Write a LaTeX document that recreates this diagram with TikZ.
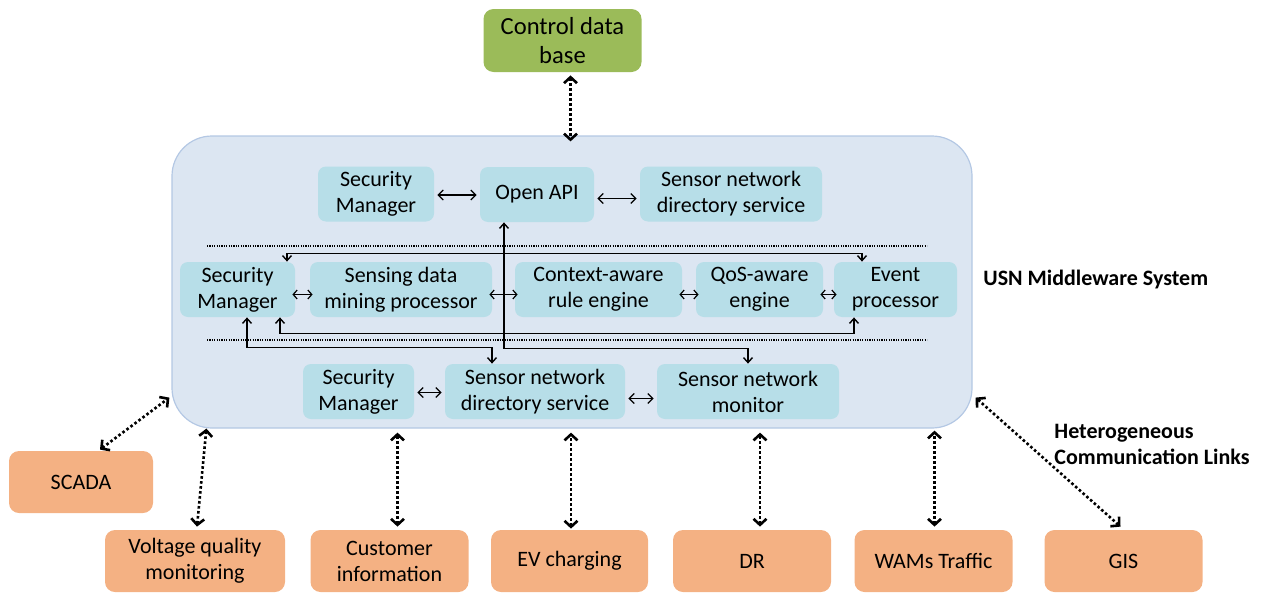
\documentclass[tikz,border=0pt]{standalone}
\usepackage{fontspec}
\setmainfont{Carlito}
\usetikzlibrary{arrows.meta,calc}
\definecolor{dbGreen}{HTML}{9BBB59}
\definecolor{usnFill}{HTML}{DCE6F2}
\definecolor{usnLine}{HTML}{B4C8E4}
\definecolor{modFill}{HTML}{B7DEE8}
\definecolor{appFill}{HTML}{F4B183}
\begin{document}
\begin{tikzpicture}[x=0.5pt, y=-0.5pt,
    usnStyle/.style={rectangle, rounded corners=20pt, fill=usnFill, draw=usnLine, line width=0.6pt, minimum width=400pt, minimum height=146pt},
    modStyle/.style={rectangle, rounded corners=4pt, fill=modFill, inner sep=0pt, align=center, font=\fontsize{11}{13}\selectfont, minimum height=27.5pt},
    appStyle/.style={rectangle, rounded corners=5pt, fill=appFill, inner sep=0pt, align=center, font=\fontsize{11}{13}\selectfont, minimum height=31pt},
    linkStyle/.style={line width=1.3pt, dash pattern=on 1.3pt off 1.2pt, {Straight Barb[length=3pt,width=6.5pt]}-{Straight Barb[length=3pt,width=6.5pt]}},
    hopStyle/.style={line width=0.6pt, {Straight Barb[length=2.5pt,width=5pt]}-{Straight Barb[length=2.5pt,width=5pt]}, shorten <=1.5pt, shorten >=1.5pt},
    shortHop/.style={line width=0.6pt, {Straight Barb[length=2pt,width=4.5pt]}-{Straight Barb[length=2pt,width=4.5pt]}, shorten <=-1.5pt, shorten >=-1.5pt},
    wireStyle/.style={line width=0.7pt, {Straight Barb[length=2.5pt,width=4.5pt]}-{Straight Barb[length=2.5pt,width=4.5pt]}},
    sepStyle/.style={line width=0.6pt, dash pattern=on 0.6pt off 0.6pt},
    noteStyle/.style={font=\fontsize{11}{13}\selectfont\bfseries, align=left, anchor=west, inner sep=0pt}]
  \useasboundingbox (0,0) rectangle (1263,594);

  % middleware frame and data base
  \node[usnStyle] (usn) at (572, 282) {};
  \node[rectangle, rounded corners=5pt, fill=dbGreen, inner sep=0pt, align=center,
        font=\fontsize{12.3}{14.5}\selectfont, minimum width=79pt, minimum height=31.5pt] (db) at (562.5, 40.5) {Control data\\base};

  % top layer
  \node[modStyle, minimum width=58pt] (r1_sm)   at (376, 194)   {Security\\Manager};
  \node[modStyle, minimum width=57pt] (r1_api)  at (537, 194.5) {Open API};
  \node[modStyle, minimum width=91pt] (r1_snds) at (731, 194)   {Sensor network\\directory service};

  \draw[sepStyle] (207, 246) -- (927, 246);

  % middle layer
  \node[modStyle, minimum width=57.5pt] (r2_sm)    at (237.5, 289.5) {Security\\Manager};
  \node[modStyle, minimum width=91pt]   (r2_sdmp)  at (401, 289.5)   {Sensing data\\mining processor};
  \node[modStyle, minimum width=83.5pt] (r2_care)  at (598.5, 289.5) {Context-aware\\rule engine};
  \node[modStyle, minimum width=63.5pt] (r2_qos)   at (759.5, 289.5) {QoS-aware\\engine};
  \node[modStyle, minimum width=61.5pt] (r2_event) at (895.5, 289.5) {Event\\processor};

  \draw[sepStyle] (207, 340) -- (927, 340);

  % bottom layer
  \node[modStyle, minimum width=55.5pt] (r3_sm)   at (358.5, 391.5) {Security\\Manager};
  \node[modStyle, minimum width=90pt]   (r3_snds) at (535, 391.5)   {Sensor network\\directory service};
  \node[modStyle, minimum width=91pt]   (r3_mon)  at (748, 391.5)   {Sensor network\\monitor};

  % applications
  \node[appStyle, minimum width=72pt]   (scada) at (81, 482)     {SCADA};
  \node[appStyle, minimum width=90pt]   (volt)  at (195, 561)    {Voltage quality\\monitoring};
  \node[appStyle, minimum width=79pt]   (cust)  at (389.5, 561)  {Customer\\information};
  \node[appStyle, minimum width=78.5pt] (ev)    at (569.5, 561)  {EV charging};
  \node[appStyle, minimum width=79pt]   (dr)    at (752, 561)    {DR};
  \node[appStyle, minimum width=79pt]   (wams)  at (933.5, 561)  {WAMs Traffic};
  \node[appStyle, minimum width=79pt]   (gis)   at (1123.5, 561) {GIS};

  \node[noteStyle] (usn_label) at (983, 280) {USN Middleware System};
  \node[noteStyle] (link_label) at (1054, 444) {Heterogeneous\\Communication Links};

  % links inside the layers
  \draw[hopStyle] ($(r1_sm.east)+(0,1)$) -- ($(r1_api.west)+(0,0.5)$);
  \draw[hopStyle] ($(r1_api.east)+(0,4)$) -- ($(r1_snds.west)+(0,4.5)$);

  \draw[shortHop] ($(r2_sm.east)+(0,5)$)   -- ($(r2_sdmp.west)+(0,5)$);
  \draw[shortHop] ($(r2_sdmp.east)+(0,5)$) -- ($(r2_care.west)+(0,5)$);
  \draw[shortHop] ($(r2_care.east)+(0,5)$) -- ($(r2_qos.west)+(0,5)$);
  \draw[shortHop] ($(r2_qos.east)+(0,5)$)  -- ($(r2_event.west)+(0,5)$);

  \draw[hopStyle] ($(r3_sm.east)+(0,1)$)   -- ($(r3_snds.west)+(0,1)$);
  \draw[hopStyle] ($(r3_snds.east)+(0,7)$) -- ($(r3_mon.west)+(0,7)$);

  % links across the layers
  \draw[wireStyle] ($(r2_sm.north)+(49.5,0)$) |- ($(r2_event.north)+(-33.5,-8)$) -- ($(r2_event.north)+(-33.5,0)$);
  \draw[wireStyle] ($(r2_sm.south)+(42.5,0)$) |- ($(r2_event.south)+(-41.5,16)$) -- ($(r2_event.south)+(-41.5,0)$);
  \draw[wireStyle] ($(r2_sm.south)+(9.5,0)$)  |- ($(r3_snds.north)+(-43,-16)$) -- ($(r3_snds.north)+(-43,0)$);
  \draw[wireStyle] ($(r1_api.south)+(-33,0)$) |- ($(r3_mon.north)+(0,-15)$) -- (r3_mon.north);

  % heterogeneous links
  \draw[linkStyle] ($(db.south)+(8,3)$) -- ($(db.south |- usn.north)+(8,6)$);
  \draw[linkStyle] ($(scada.north)+(19,-1)$) -- ($(usn.south west)+(-2,-31)$);
  \draw[linkStyle] ($(volt.north)+(2,-3)$) -- ($(usn.south west)+(35,0)$);
  \draw[linkStyle] ($(cust.north)+(8,-3)$) -- ($(cust.north |- usn.south)+(8,4)$);
  \draw[linkStyle] ($(ev.north)+(1.5,-1)$) -- ($(ev.north |- usn.south)+(1.5,4)$);
  \draw[linkStyle] ($(dr.north)+(8,-3)$) -- ($(dr.north |- usn.south)+(8,4)$);
  \draw[linkStyle] ($(wams.north)+(1,-3)$) -- ($(wams.north |- usn.south)+(1,2)$);
  \draw[linkStyle] ($(gis.north)+(-3,-3)$) -- ($(usn.south east)+(3,-31)$);
\end{tikzpicture}
\end{document}
